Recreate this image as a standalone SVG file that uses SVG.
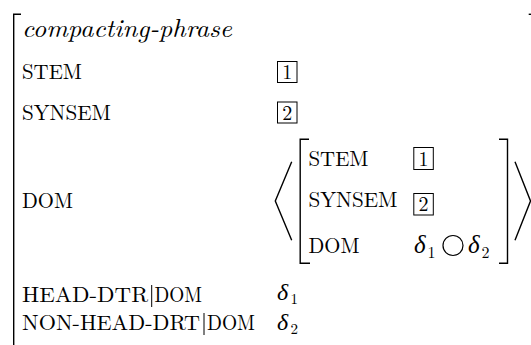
<svg xmlns="http://www.w3.org/2000/svg" width="531" height="345" viewBox="0 0 531 345">
<style>
.br{fill:none;stroke:#000;stroke-width:1.4;stroke-linecap:butt}
.box{fill:none;stroke:#000;stroke-width:1}
.dig{text-anchor:middle}
</style>
<rect width="531" height="345" fill="#fff"/>
<g font-family="Latin Modern Roman, Liberation Serif, serif" font-size="21" fill="#000">
<g id="outer-avm">
<path class="br" d="M21,14.3 H13.7 V345"/>
<path class="br" d="M528.7,14.3 H545"/>
<text x="22" y="37" font-size="26" font-style="italic" textLength="210" lengthAdjust="spacingAndGlyphs">compacting-phrase</text>
</g>
<g id="row-stem">
<text x="22" y="79" textLength="60" lengthAdjust="spacingAndGlyphs">STEM</text>
<rect class="box" x="277.5" y="61.5" width="19.5" height="21"/>
<text class="dig" x="287.2" y="79" font-size="20">1</text>
</g>
<g id="row-synsem">
<text x="22" y="120" textLength="89" lengthAdjust="spacingAndGlyphs">SYNSEM</text>
<rect class="box" x="277.5" y="102" width="19.5" height="21"/>
<text class="dig" x="287.2" y="119.5" font-size="20">2</text>
</g>
<g id="row-dom">
<text x="22" y="208" textLength="51" lengthAdjust="spacingAndGlyphs">DOM</text>
<path class="br" d="M291.7,161.7 L275.3,201 L291.7,240.3"/>
<path class="br" d="M515,161.7 L530.5,201 L515,240.3"/>
<path class="br" d="M309,139.3 H300.2 V263.3 H310"/>
<path class="br" d="M499,139.3 H507.5 V263.3 H499"/>
</g>
<g id="inner-stem">
<text x="308.5" y="166" textLength="60" lengthAdjust="spacingAndGlyphs">STEM</text>
<rect class="box" x="413.8" y="147.5" width="19.5" height="22"/>
<text class="dig" x="423.5" y="165.5" font-size="20">1</text>
</g>
<g id="inner-synsem">
<text x="308.5" y="207.3" textLength="89" lengthAdjust="spacingAndGlyphs">SYNSEM</text>
<rect class="box" x="413.8" y="193.5" width="19.5" height="21.5"/>
<text class="dig" x="423.5" y="211" font-size="20">2</text>
</g>
<g id="inner-dom">
<text x="308.5" y="253.3" textLength="51" lengthAdjust="spacingAndGlyphs">DOM</text>
<text x="414" y="253.3" font-size="25" font-style="italic">δ</text>
<text x="427.5" y="257.5" font-size="16">1</text>
<circle cx="453" cy="245.5" r="10" fill="none" stroke="#000" stroke-width="1.2"/>
<text x="468" y="253.3" font-size="25" font-style="italic">δ</text>
<text x="481.5" y="257.5" font-size="16">2</text>
</g>
<g id="row-head-dtr">
<text x="22" y="302" textLength="126" lengthAdjust="spacingAndGlyphs">HEAD-DTR</text>
<path class="br" d="M151.7,285 V307" style="stroke-width:1"/>
<text x="154.5" y="302" textLength="47.5" lengthAdjust="spacingAndGlyphs">DOM</text>
<text x="277" y="300" font-size="24" font-style="italic">δ</text>
<text x="290.5" y="303.5" font-size="15">1</text>
</g>
<g id="row-non-head-drt">
<text x="22" y="330" textLength="178" lengthAdjust="spacingAndGlyphs">NON-HEAD-DRT</text>
<path class="br" d="M204,313 V335" style="stroke-width:1"/>
<text x="207" y="330" textLength="48" lengthAdjust="spacingAndGlyphs">DOM</text>
<text x="277" y="330" font-size="24" font-style="italic">δ</text>
<text x="290.5" y="334" font-size="15">2</text>
</g>
</g>
<g id="connectors"></g>
</svg>
